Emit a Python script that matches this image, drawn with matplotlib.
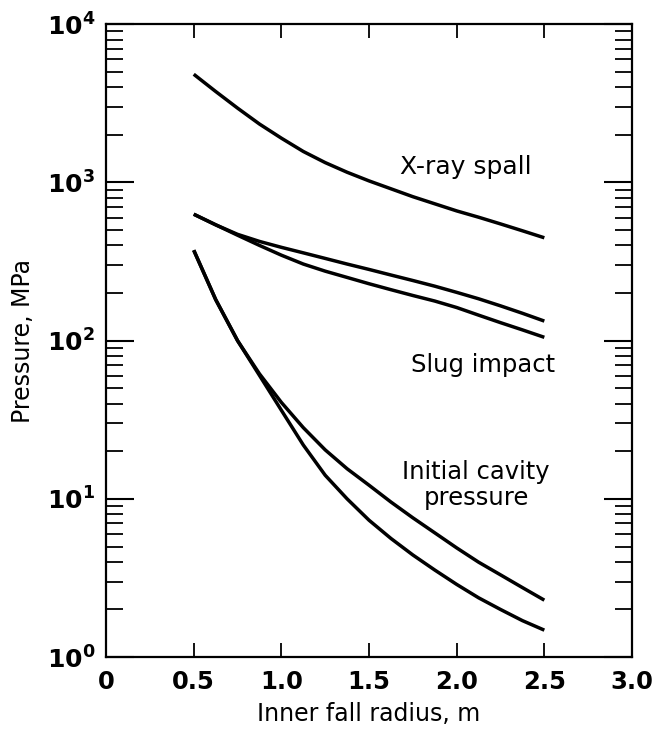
import matplotlib
matplotlib.use('Agg')
import matplotlib.pyplot as plt
from matplotlib.ticker import LogLocator, NullFormatter

# curves (pressure in MPa vs inner fall radius in m)
radius = [0.5, 0.625, 0.75, 0.875, 1.0, 1.125, 1.25, 1.375, 1.5, 1.625,
          1.75, 1.875, 2.0, 2.125, 2.25, 2.375, 2.5]
xray_spall = [4830, 3760, 2950, 2340, 1905, 1570, 1335, 1160, 1023, 912,
              813, 733, 661, 603, 547, 495, 447]
slug_upper = [630, 540, 470, 424, 389, 359, 331, 305, 282, 260,
              240, 221, 202, 184, 166, 149, 133]
slug_lower = [630, 540, 464, 400, 347, 305, 275, 251, 229, 210,
              193, 178, 162, 145, 130, 117, 105]
cavity_upper = [373, 182, 100, 61.7, 40.7, 28.2, 20.4, 15.5, 12.2, 9.55,
                7.59, 6.1, 4.9, 3.98, 3.31, 2.75, 2.29]
cavity_lower = [373, 182, 100, 60.3, 36.3, 21.9, 14.1, 10.0, 7.33, 5.62,
                4.42, 3.55, 2.88, 2.37, 2.00, 1.70, 1.48]

x_ticks = [0, 0.5, 1.0, 1.5, 2.0, 2.5, 3.0]
x_tick_labels = ['0', '0.5', '1.0', '1.5', '2.0', '2.5', '3.0']
y_ticks = [1, 10, 100, 1000, 10000]
y_tick_labels = [r'$\mathbf{10^{%d}}$' % i for i in range(5)]

plt.rcParams['font.family'] = ['DejaVu Sans']

fig = plt.figure(figsize=(6.59, 7.35), dpi=100)
ax = fig.add_axes([0.161, 0.106, 0.798, 0.861])

line = dict(color='black', lw=2.5, solid_capstyle='butt')
ax.plot(radius, xray_spall, **line)
ax.plot(radius, slug_upper, **line)
ax.plot(radius, slug_lower, **line)
ax.plot(radius, cavity_upper, **line)
ax.plot(radius, cavity_lower, **line)

ax.set_yscale('log')
ax.set_xlim(0, 3.0)
ax.set_ylim(1, 1e4)

ax.set_xticks(x_ticks)
ax.set_xticklabels(x_tick_labels, fontsize=17.5, fontweight='bold')
ax.set_yticks(y_ticks)
ax.set_yticklabels(y_tick_labels, fontsize=18)
ax.yaxis.set_minor_locator(LogLocator(base=10, subs=range(2, 10)))
ax.yaxis.set_minor_formatter(NullFormatter())

ax.tick_params(axis='x', which='major', direction='in', top=True,
               length=10, width=1.3, pad=9)
ax.tick_params(axis='y', which='major', direction='in', right=True,
               length=20, width=1.5, pad=8)
ax.tick_params(axis='y', which='minor', direction='in', right=True,
               length=12, width=1.3)
for spine in ax.spines.values():
    spine.set_linewidth(1.6)

ax.set_xlabel('Inner fall radius, m', fontsize=17, labelpad=6)
ax.set_ylabel('Pressure, MPa', fontsize=17, labelpad=8)

ax.text(2.05, 1250, 'X-ray spall', fontsize=18, ha='center', va='center')
ax.text(2.15, 70, 'Slug impact', fontsize=17.5, ha='center', va='center')
ax.text(2.11, 12.2, 'Initial cavity\npressure', fontsize=17.5,
        ha='center', va='center', linespacing=1.1)

fig.savefig('out.png', dpi=100)
